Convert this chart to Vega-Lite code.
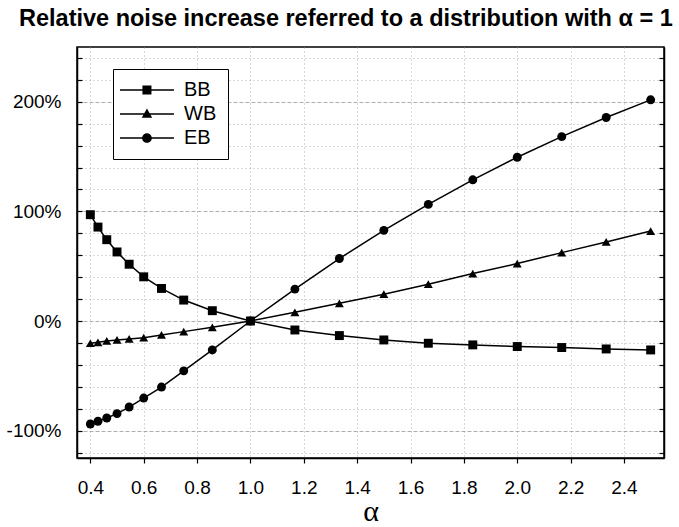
{
  "$schema": "https://vega.github.io/schema/vega-lite/v6.json",
  "autosize": "none",
  "width": 587,
  "height": 411,
  "padding": {"left": 77, "top": 47, "right": 15, "bottom": 69},
  "background": "white",
  "title": {
    "text": "Relative noise increase referred to a distribution with α = 1",
    "anchor": "start",
    "frame": "group",
    "dx": -58,
    "offset": -7,
    "baseline": "bottom",
    "font": "Liberation Sans",
    "fontSize": 23.5,
    "fontWeight": "bold",
    "color": "black"
  },
  "config": {
    "view": {"stroke": "black", "strokeWidth": 1.5},
    "axis": {
      "labelFont": "Liberation Sans",
      "labelFontSize": 19,
      "labelColor": "black",
      "domainColor": "black",
      "tickColor": "black",
      "domainWidth": 1.5,
      "tickWidth": 1.2
    }
  },
  "data": {
    "values": [
      {"a": 0.4, "s": "BB", "v": 97}, {"a": 0.428571, "s": "BB", "v": 85.7}, {"a": 0.461538, "s": "BB", "v": 74.2},
      {"a": 0.5, "s": "BB", "v": 63}, {"a": 0.545455, "s": "BB", "v": 51.8}, {"a": 0.6, "s": "BB", "v": 40.3},
      {"a": 0.666667, "s": "BB", "v": 29.7}, {"a": 0.75, "s": "BB", "v": 19.1}, {"a": 0.857143, "s": "BB", "v": 9.4},
      {"a": 1, "s": "BB", "v": 0}, {"a": 1.166667, "s": "BB", "v": -8.2}, {"a": 1.333333, "s": "BB", "v": -13.3},
      {"a": 1.5, "s": "BB", "v": -17.3}, {"a": 1.666667, "s": "BB", "v": -20.3}, {"a": 1.833333, "s": "BB", "v": -21.8},
      {"a": 2, "s": "BB", "v": -23.3}, {"a": 2.166667, "s": "BB", "v": -24.2}, {"a": 2.333333, "s": "BB", "v": -25.5},
      {"a": 2.5, "s": "BB", "v": -26.4},
      {"a": 0.4, "s": "WB", "v": -20.3}, {"a": 0.428571, "s": "WB", "v": -19.4}, {"a": 0.461538, "s": "WB", "v": -18.2},
      {"a": 0.5, "s": "WB", "v": -17.3}, {"a": 0.545455, "s": "WB", "v": -16.4}, {"a": 0.6, "s": "WB", "v": -15.2},
      {"a": 0.666667, "s": "WB", "v": -12.7}, {"a": 0.75, "s": "WB", "v": -9.7}, {"a": 0.857143, "s": "WB", "v": -5.8},
      {"a": 1, "s": "WB", "v": 0}, {"a": 1.166667, "s": "WB", "v": 7.9}, {"a": 1.333333, "s": "WB", "v": 16.1},
      {"a": 1.5, "s": "WB", "v": 24.5}, {"a": 1.666667, "s": "WB", "v": 33.6}, {"a": 1.833333, "s": "WB", "v": 43.3},
      {"a": 2, "s": "WB", "v": 52.4}, {"a": 2.166667, "s": "WB", "v": 62.4}, {"a": 2.333333, "s": "WB", "v": 72.1},
      {"a": 2.5, "s": "WB", "v": 82.1},
      {"a": 0.4, "s": "EB", "v": -94}, {"a": 0.428571, "s": "EB", "v": -91.5}, {"a": 0.461538, "s": "EB", "v": -88.5},
      {"a": 0.5, "s": "EB", "v": -84.5}, {"a": 0.545455, "s": "EB", "v": -78.5}, {"a": 0.6, "s": "EB", "v": -70.3},
      {"a": 0.666667, "s": "EB", "v": -60.3}, {"a": 0.75, "s": "EB", "v": -45.5}, {"a": 0.857143, "s": "EB", "v": -26.4},
      {"a": 1, "s": "EB", "v": 0}, {"a": 1.166667, "s": "EB", "v": 29.1}, {"a": 1.333333, "s": "EB", "v": 57},
      {"a": 1.5, "s": "EB", "v": 82.7}, {"a": 1.666667, "s": "EB", "v": 106.4}, {"a": 1.833333, "s": "EB", "v": 128.8},
      {"a": 2, "s": "EB", "v": 149.4}, {"a": 2.166667, "s": "EB", "v": 168.2}, {"a": 2.333333, "s": "EB", "v": 185.7},
      {"a": 2.5, "s": "EB", "v": 201.8}
    ]
  },
  "encoding": {
    "x": {
      "field": "a", "type": "quantitative",
      "scale": {"domain": [0.35, 2.55], "nice": false, "zero": false},
      "axis": {
        "values": [0.4, 0.6, 0.8, 1.0, 1.2, 1.4, 1.6, 1.8, 2.0, 2.2, 2.4],
        "format": ".1f",
        "tickSize": 5,
        "labelPadding": 15,
        "grid": true,
        "gridColor": "#999",
        "gridDash": [1, 3],
        "gridWidth": 0.8,
        "title": "α",
        "titleFont": "Liberation Serif",
        "titleFontSize": 30,
        "titleFontWeight": "normal",
        "titleColor": "black",
        "titlePadding": -1
      }
    },
    "y": {
      "field": "v", "type": "quantitative",
      "scale": {"domain": [-125, 250], "nice": false, "zero": false}
    }
  },
  "layer": [
    {
      "mark": {"type": "line", "color": "black", "strokeWidth": 1.5},
      "encoding": {
        "detail": {"field": "s"},
        "y": {
          "field": "v", "type": "quantitative",
          "axis": {
            "orient": "right",
            "values": [-120, -100, -80, -60, -40, -20, 0, 20, 40, 60, 80, 100, 120, 140, 160, 180, 200, 220, 240],
            "labels": false,
            "tickSize": -5,
            "grid": false,
            "title": null
          }
        }
      }
    },
    {
      "mark": {"type": "point", "filled": true, "color": "black", "opacity": 1, "size": 80},
      "encoding": {
        "shape": {
          "field": "s", "type": "nominal",
          "scale": {"domain": ["BB", "WB", "EB"], "range": ["square", "triangle-up", "circle"]},
          "legend": null
        },
        "y": {
          "field": "v", "type": "quantitative",
          "axis": {
            "orient": "left",
            "values": [-120, -100, -80, -60, -40, -20, 0, 20, 40, 60, 80, 100, 120, 140, 160, 180, 200, 220, 240],
            "labelExpr": "datum.value % 100 === 0 ? datum.value + '%' : ''",
            "tickSize": -5,
            "labelPadding": 21,
            "grid": true,
            "gridColor": "#999",
            "gridWidth": 0.8,
            "gridDash": {"condition": {"test": "datum.value % 100 === 0", "value": [4, 2]}, "value": [1, 3]},
            "title": null
          }
        }
      }
    },
    {
      "mark": {"type": "point", "filled": true, "fill": "black", "opacity": 0, "size": 10},
      "encoding": {
        "y": {"field": "v", "type": "quantitative", "axis": null},
        "shape": {
          "field": "s", "type": "nominal",
          "scale": {
            "domain": ["BB", "WB", "EB"],
            "range": [
              "M-1.56,-0.08H4.44V0.08H-1.56Z M0.94,-0.5H1.94V0.5H0.94Z",
              "M-1.56,-0.08H4.44V0.08H-1.56Z M1.44,-0.62L2.02,0.42H0.86Z",
              "M-1.56,-0.08H4.44V0.08H-1.56Z M1.98,0A0.54,0.54 0 1,1 0.9,0A0.54,0.54 0 1,1 1.98,0Z"
            ]
          },
          "legend": {
            "title": null,
            "orient": "none",
            "legendX": 36,
            "legendY": 22,
            "padding": 11,
            "strokeColor": "black",
            "fillColor": "white",
            "cornerRadius": 0,
            "symbolSize": 324,
            "symbolFillColor": "black",
            "symbolOpacity": 1,
            "labelFont": "Liberation Sans",
            "labelFontSize": 20,
            "labelColor": "black",
            "labelOffset": 40,
            "rowPadding": 4,
            "encode": {
              "legend": {"update": {"strokeWidth": {"value": 1.5}}}
            }
          }
        }
      }
    }
  ],
  "resolve": {"axis": {"y": "independent"}, "scale": {"shape": "independent"}}
}
